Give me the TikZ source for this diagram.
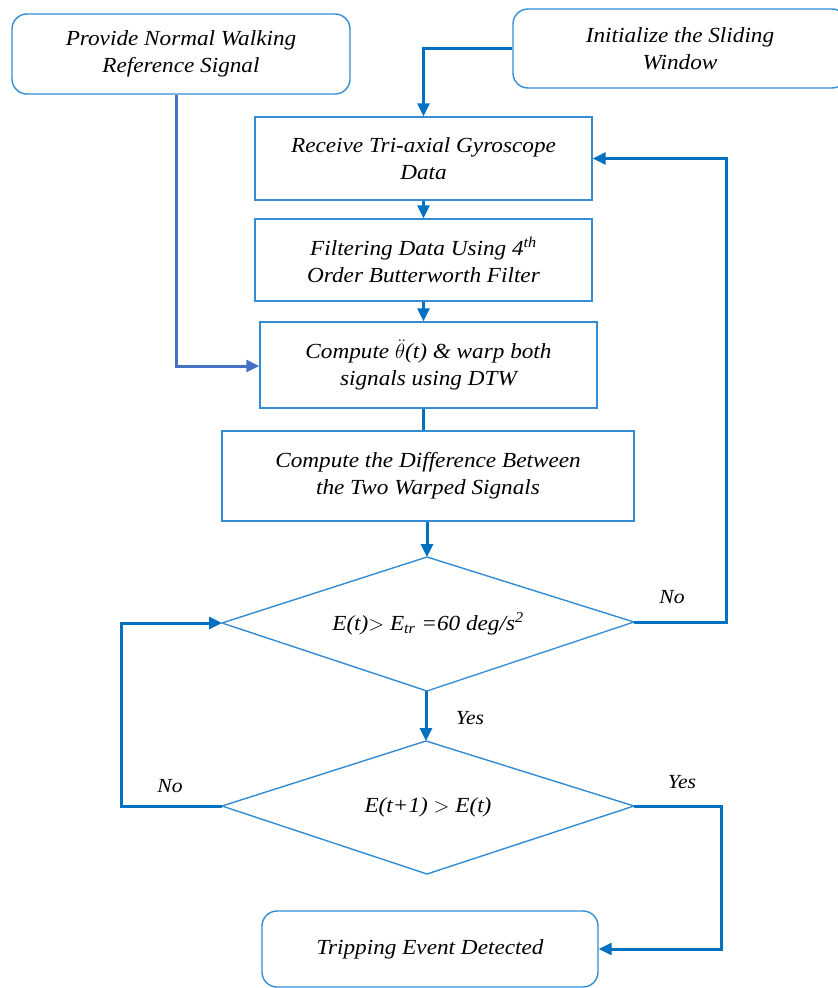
\documentclass[tikz,border=0pt]{standalone}
\usepackage{fontspec}
\setmainfont{Liberation Serif}[FakeStretch=1.08]
\usetikzlibrary{arrows.meta}
\definecolor{boxblue}{RGB}{52,140,210}
\definecolor{lineblue}{RGB}{0,112,192}
\definecolor{refblue}{RGB}{68,114,196}
\tikzset{
  txt/.style={font=\fontsize{21.5}{27}\selectfont\itshape, align=center},
  rbox/.style={txt, draw=boxblue, line width=1.4pt, rounded corners=15pt, inner sep=0pt},
  sbox/.style={txt, draw=boxblue, line width=1.4pt, inner sep=0pt},
  dline/.style={draw=boxblue, line width=1.4pt},
  conn/.style={draw=lineblue, line width=3pt},
  arr/.style={conn, -{Triangle[length=13pt,width=12pt]}},
  lbl/.style={font=\fontsize{20}{24}\selectfont\itshape}
}
\begin{document}
\begin{tikzpicture}[x=1pt,y=-1pt]
\useasboundingbox (0,0) rectangle (838,988);
\clip (0,0) rectangle (838,988);
% nodes
\node[rbox, minimum width=338pt, minimum height=80pt] (A) at (181,54) {Provide Normal Walking\\Reference Signal};
\node[rbox, minimum width=334pt, minimum height=79pt] (B) at (680,48.5) {Initialize the Sliding\\Window};
\node[sbox, minimum width=337pt, minimum height=83pt] (C) at (423.5,158.5) {Receive Tri-axial Gyroscope\\Data};
\node[sbox, minimum width=337pt, minimum height=82pt] (D) at (423.5,260) {Filtering Data Using 4\textsuperscript{th}\\Order Butterworth Filter};
\node[sbox, minimum width=337pt, minimum height=86pt] (E) at (428.5,365) {Compute $\ddot{\theta}$(t) \& warp both\\signals using DTW};
\node[sbox, minimum width=412pt, minimum height=90pt] (F) at (428,476) {Compute the Difference Between\\the Two Warped Signals};
\node[rbox, minimum width=336pt, minimum height=76pt] (T) at (430,949) {Tripping Event Detected};
% diamond G
\coordinate (Gl) at (222,623);
\coordinate (Gr) at (634,622);
\coordinate (Gt) at (427,557);
\coordinate (Gb) at (427,691);
\draw[dline] (Gl) -- (Gt) -- (Gr) -- (Gb) -- cycle;
\node[txt] (G) at (428,624) {E(t)$>$ E\textsubscript{tr} =60 deg/s\textsuperscript{2}};
% diamond H
\coordinate (Hl) at (222,806);
\coordinate (Hr) at (634,806);
\coordinate (Ht) at (426,741);
\coordinate (Hb) at (427,874);
\draw[dline] (Hl) -- (Ht) -- (Hr) -- (Hb) -- cycle;
\node[txt] (H) at (428,807) {E(t+1) $>$ E(t)};
% corner coordinates
\coordinate (aturn) at (176,366);
\coordinate (gturn) at (726,622);
\coordinate (hlturn) at (121,806);
\coordinate (hrturn) at (721,806);
% connectors
\draw[conn, draw=refblue, -{Triangle[length=13pt,width=12pt]}] (A.south -| aturn) -- (aturn) -- (aturn -| E.west);
\draw[arr] (B.west) -| (C.north);
\draw[arr] (C.south) -- (D.north);
\draw[arr] (D.south) -- (D.south |- E.north);
\draw[conn] (E.south -| D.south) -- (D.south |- F.north);
\draw[arr] (F.south -| Gt) -- (Gt);
\draw[arr] (Gb -| Ht) -- (Ht);
\draw[arr] (Gr) -- (gturn) |- (C.east);
\draw[arr] (Hl) -- (hlturn) |- (Gl);
\draw[arr] (Hr) -- (hrturn) |- (T.east);
% labels
\node[lbl] (lno1) at (672,597) {No};
\node[lbl] (lyes1) at (470,718) {Yes};
\node[lbl] (lno2) at (170,786) {No};
\node[lbl] (lyes2) at (682,782) {Yes};
\end{tikzpicture}
\end{document}
